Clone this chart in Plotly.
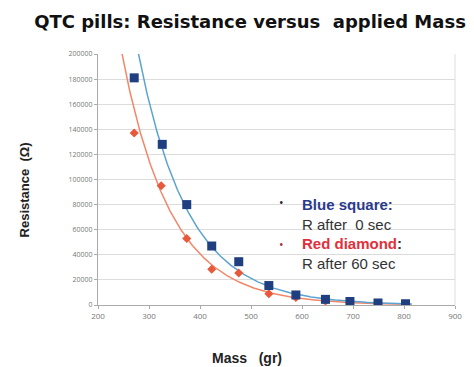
import numpy as np
import plotly.graph_objects as go

# Data
mass_blue = [271, 326, 374, 423, 476, 535, 588, 646, 694, 749, 803]
res_blue = [181000, 128000, 80000, 47000, 34500, 15500, 8000, 4500, 2800, 1600, 1000]
mass_red = [271, 324, 374, 423, 476, 535, 588, 646, 694, 749, 803]
res_red = [137000, 95000, 53000, 28500, 25500, 9000, 6000, 3200, 1900, 1000, 600]

x_ticks = [200, 300, 400, 500, 600, 700, 800, 900]
y_ticks = [0, 20000, 40000, 60000, 80000, 100000, 120000, 140000, 160000, 180000, 200000]

OFF = 8  # page body margin
W, H = 474 - OFF, 367 - OFF
L, R, T, B = 98 - OFF, 12, 54 - OFF, 62
def px(xs):  # screen pixel -> paper x
    return (xs - OFF - L) / (W - L - R)
def py(ys):  # screen pixel -> paper y
    return (H - B - (ys - OFF)) / (H - T - B)

fig = go.Figure()

def exp_fit(xs, ys):
    b, a = np.polyfit(np.array(xs, float), np.log(np.array(ys, float)), 1)
    xx = np.linspace(220, 815, 300)
    return xx, np.exp(a + b * xx)

bx, by = exp_fit(mass_blue, res_blue)
rx, ry = exp_fit(mass_red, res_red)

fig.add_trace(go.Scatter(x=rx, y=ry, mode="lines", line=dict(color="#f2876a", width=1.5),
                         hoverinfo="skip", showlegend=False))
fig.add_trace(go.Scatter(x=bx, y=by, mode="lines", line=dict(color="#5ba3d0", width=1.5),
                         hoverinfo="skip", showlegend=False))
fig.add_trace(go.Scatter(x=mass_red, y=res_red, mode="markers",
                         marker=dict(symbol="diamond", size=7, color="#e8583a"), showlegend=False))
fig.add_trace(go.Scatter(x=mass_blue, y=res_blue, mode="markers",
                         marker=dict(symbol="square", size=9, color="#1f3f80"), showlegend=False))

legend_text = ("<span style='color:#2b3a8c'><b>Blue square:</b></span><br>"
               "<span style='color:#333'>R after  0 sec</span><br>"
               "<span style='color:#e0303c'><b>Red diamond</b></span><span style='color:#333'><b>:</b></span><br>"
               "<span style='color:#333'>R after 60 sec</span>")
fig.add_annotation(xref="paper", yref="paper", x=px(304), y=py(234), xanchor="left", yanchor="middle",
                   text=legend_text, showarrow=False, align="left",
                   font=dict(family="Liberation Sans, Arial", size=15))
for yy, col in [(203, "#222"), (244, "#a03040")]:
    fig.add_annotation(xref="paper", yref="paper", x=px(285), y=py(yy), text="•", showarrow=False,
                       xanchor="center", yanchor="middle", font=dict(size=12, color=col))

# axis titles
fig.add_annotation(xref="paper", yref="paper", x=px(250), y=py(358), text="<b>Mass   (gr)</b>",
                   showarrow=False, xanchor="center", yanchor="middle",
                   font=dict(family="Liberation Sans, Arial", size=14, color="#222"))
fig.add_annotation(xref="paper", yref="paper", x=px(23), y=py(190), text="<b>Resistance  (Ω)</b>",
                   showarrow=False, xanchor="center", yanchor="middle", textangle=-90,
                   font=dict(family="Liberation Sans, Arial", size=13, color="#222"))

fig.update_layout(
    width=W, height=H,
    margin=dict(l=L, r=R, t=T, b=B),
    paper_bgcolor="white", plot_bgcolor="white",
    title=dict(text="<b>QTC pills: Resistance versus  applied Mass</b>", x=(250 - OFF) / W,
               y=1 - (22 - OFF) / H, xanchor="center", yanchor="middle",
               font=dict(family="DejaVu Sans", size=18, color="#111")),
    xaxis=dict(range=[200, 900], tickvals=x_ticks, showgrid=False,
               showline=True, linecolor="#aaa", ticks="outside", ticklen=3, tickcolor="#aaa",
               tickfont=dict(size=8, color="#777")),
    yaxis=dict(range=[0, 200000], tickvals=y_ticks, tickformat="d", showgrid=True, gridcolor="#dcdcdc",
               showline=True, linecolor="#aaa", ticks="outside", ticklen=3, tickcolor="#aaa",
               tickfont=dict(size=7, color="#777"), zeroline=False),
    shapes=[
        dict(type="line", xref="paper", yref="paper", x0=1, x1=1, y0=0, y1=1,
             line=dict(color="#ddd", width=1)),
        dict(type="rect", xref="paper", yref="paper", x0=px(270), x1=px(450), y0=py(276), y1=py(190),
             fillcolor="white", line=dict(width=0), layer="between"),
    ],
)

fig.write_html("out.html")
